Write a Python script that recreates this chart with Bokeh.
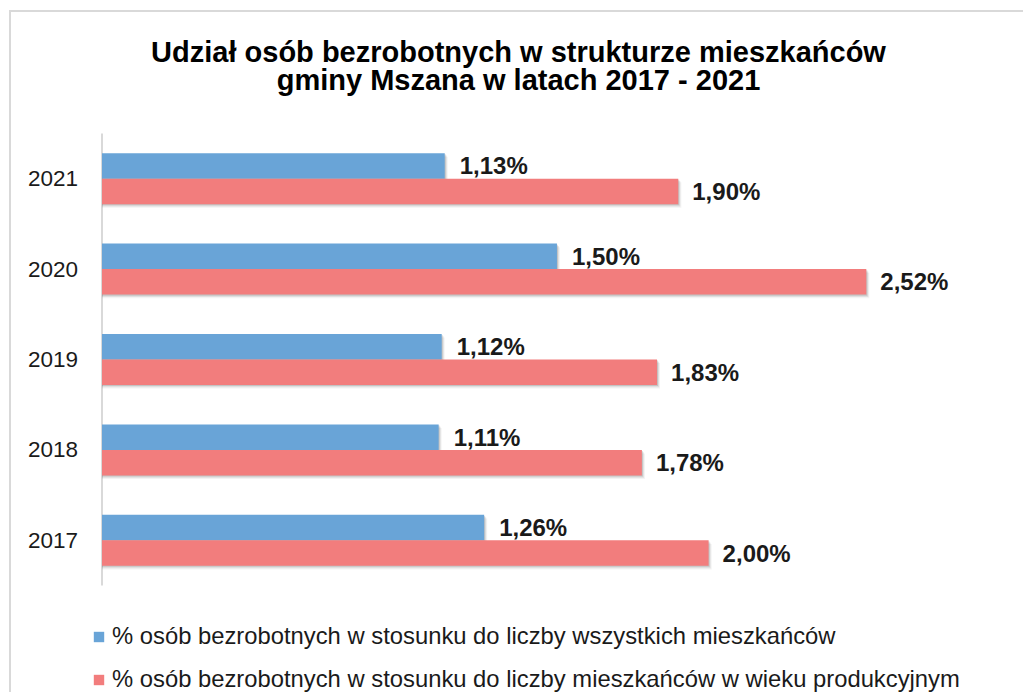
from bokeh.plotting import figure
from bokeh.models import (ColumnDataSource, Range1d, LabelSet, Legend, LegendItem, Label)
from bokeh.core.properties import value
from bokeh.transform import dodge
from bokeh.embed import file_html
from bokeh.resources import INLINE

years = ["2017", "2018", "2019", "2020", "2021"]
share_all = [1.26, 1.11, 1.12, 1.50, 1.13]
share_working = [2.00, 1.78, 1.83, 2.52, 1.90]

legend_all = "% osób bezrobotnych w stosunku do liczby wszystkich mieszkańców"
legend_working = "% osób bezrobotnych w stosunku do liczby mieszkańców w wieku produkcyjnym"
title_line1 = "Udział osób bezrobotnych w strukturze mieszkańców"
title_line2 = "gminy Mszana w latach 2017 - 2021"

BLUE = "#69A4D7"
RED = "#F27D7D"
FONT = "Liberation Sans"
W, HGT = 1014, 682


def fmt(v):
    return f"{v:.2f}".replace(".", ",") + "%"


pos = list(range(len(years)))
src = ColumnDataSource(dict(
    pos=pos,
    year=years,
    zero=[0] * len(years),
    a=share_all,
    w=share_working,
    a_lab=[fmt(v) for v in share_all],
    w_lab=[fmt(v) for v in share_working],
))

p = figure(width=W, height=HGT, output_backend="svg", toolbar_location=None,
           title=None,
           x_range=Range1d(-0.2984, 3.0448),
           y_range=Range1d(-1.7058, 5.8385),
           min_border=0, min_border_left=0, min_border_right=0,
           min_border_top=0, min_border_bottom=0)
p.styles = {"margin-left": "9px", "margin-top": "10px",
            "border-left": "2px solid #d9d9d9", "border-top": "2px solid #d9d9d9"}
p.outline_line_color = None
p.background_fill_color = "white"
p.border_fill_color = "white"
p.grid.visible = False
p.axis.visible = False

# titles (two centred lines)
for txt, yb in [(title_line1, 643), (title_line2, 614.5)]:
    p.add_layout(Label(x=W / 2, y=yb, x_units="screen", y_units="screen", text=txt,
                       text_align="center", text_baseline="alphabetic",
                       text_font=FONT, text_font_size="29px",
                       text_font_style="bold", text_color="black"))

# category axis line and labels
n = len(years)
p.segment(x0=0, x1=0, y0=-0.5, y1=n - 0.5, line_color="#d9d9d9", line_width=2)
p.text(x="zero", y="pos", text="year", source=src, x_offset=-24,
       text_align="right", text_baseline="middle", text_font=value(FONT),
       text_font_size="22.5px", text_color="#1a1a1a")

BH = 0.282
OFF = 0.141

# soft drop shadows under the bars
for dy, dpx, a in [(-0.012, 1, 0.16), (-0.026, 2, 0.10), (-0.04, 3, 0.06)]:
    for col, off in [("a", OFF), ("w", -OFF)]:
        p.hbar(y=dodge("pos", off + dy), left=0, right=dodge(col, dpx / 303.3),
               height=BH, source=src, fill_color="#303030", fill_alpha=a,
               line_color=None)

r_a = p.hbar(y=dodge("pos", OFF), left=0, right="a", height=BH,
             source=src, fill_color=BLUE, line_color=None)
r_w = p.hbar(y=dodge("pos", -OFF), left=0, right="w", height=BH,
             source=src, fill_color=RED, line_color=None)

for col, lab, off, xo in [("a", "a_lab", OFF, 15), ("w", "w_lab", -OFF, 14)]:
    p.add_layout(LabelSet(x=col, y=dodge("pos", off), text=lab,
                          source=src, x_offset=xo, text_baseline="middle",
                          text_font=value(FONT), text_font_size="24px",
                          text_font_style="bold", text_color="#1a1a1a"))

legend = Legend(items=[LegendItem(label=legend_all, renderers=[r_a]),
                       LegendItem(label=legend_working, renderers=[r_w])],
                location=(81, 1), orientation="vertical",
                padding=0, margin=0, border_line_color=None, background_fill_alpha=0,
                glyph_width=13, glyph_height=13, label_standoff=7,
                label_text_font=FONT, label_text_font_size="23.8px",
                label_text_color="#1a1a1a", label_height=28, spacing=15)
p.add_layout(legend, "center")

open("out.html", "w").write(file_html(p, INLINE))
